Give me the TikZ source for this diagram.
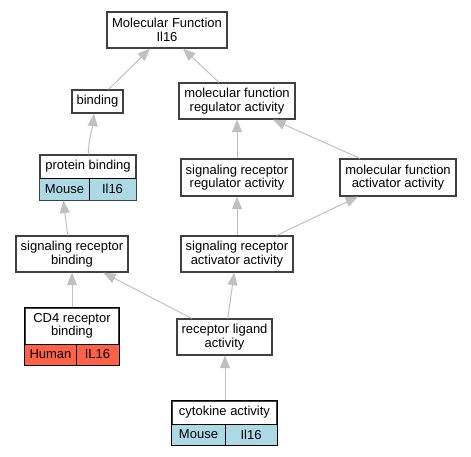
\documentclass[tikz,border=0pt]{standalone}
\usepackage{fontspec}
\setmainfont{Liberation Sans}
\usetikzlibrary{arrows.meta}
\definecolor{edgegray}{HTML}{C0C0C0}
\definecolor{boxgray}{HTML}{404040}
\definecolor{mouseblue}{HTML}{ADD8E6}
\definecolor{humanred}{HTML}{FF6347}
\tikzset{
  box/.style={draw=boxgray, line width=1.2pt, fill=white, inner sep=0pt, align=center,
    font=\fontsize{13}{13.5}\selectfont},
  txt/.style={inner sep=0pt, align=center, font=\fontsize{13}{13.5}\selectfont},
  link/.style={draw=edgegray, line width=1pt, -{Triangle[length=12.5pt,width=10pt]}},
  cell/.style={draw=black, line width=1pt},
}
\begin{document}
\begin{tikzpicture}[x=1pt,y=-1pt]
\useasboundingbox (0,0) rectangle (471,456);
% simple nodes
\node[box, minimum width=120pt, minimum height=36pt] (mf) at (167,30) {Molecular Function\\Il16};
\node[box, minimum width=51pt, minimum height=23pt] (binding) at (97.5,101.5) {binding};
\node[box, minimum width=116pt, minimum height=36pt] (mfra) at (237,101) {molecular function\\regulator activity};
\node[box, minimum width=112pt, minimum height=37pt] (srra) at (237,177.5) {signaling receptor\\regulator activity};
\node[box, minimum width=116pt, minimum height=37pt] (mfaa) at (398,177.5) {molecular function\\activator activity};
\node[box, minimum width=112pt, minimum height=36pt] (srb) at (72,254) {signaling receptor\\binding};
\node[box, minimum width=112pt, minimum height=36pt] (sraa) at (237,254) {signaling receptor\\activator activity};
\node[box, minimum width=95pt, minimum height=36pt] (rla) at (224.5,337) {receptor ligand\\activity};
% table nodes
% protein binding
\node[box, minimum width=96pt, minimum height=45pt] (pb) at (88,177.5) {};
\fill[mouseblue] (40,178) rectangle (136,200);
\draw[cell] (40,178) -- (136,178) (89,178) -- (89,200);
\draw[boxgray, line width=1.2pt] (pb.north west) rectangle (pb.south east);
\node[txt] (pbt) at (88,166.5) {protein binding};
\node[txt] (pbm) at (64.5,189) {Mouse};
\node[txt] (pbg) at (112.5,189) {Il16};
% CD4 receptor binding
\node[box, minimum width=94pt, minimum height=57pt] (cd4) at (72,336.5) {};
\fill[humanred] (25,344) rectangle (119,365);
\draw[cell] (25,344) -- (119,344) (76,344) -- (76,365);
\draw[black, line width=1.2pt] (cd4.north west) rectangle (cd4.south east);
\node[txt] (cd4t) at (72,326) {CD4 receptor\\binding};
\node[txt] (cd4h) at (50.5,354.5) {Human};
\node[txt] (cd4g) at (97.5,354.5) {IL16};
% cytokine activity
\node[box, minimum width=105pt, minimum height=44pt] (cyto) at (224.5,423) {};
\fill[mouseblue] (172,424) rectangle (277,445);
\draw[cell] (172,424) -- (277,424) (225,424) -- (225,445);
\draw[black, line width=1.2pt] (cyto.north west) rectangle (cyto.south east);
\node[txt] (cyt) at (224.5,412.5) {cytokine activity};
\node[txt] (cym) at (198.5,434.5) {Mouse};
\node[txt] (cyg) at (251,434.5) {Il16};
% connectors
\draw[link] ([xshift=11pt]binding.north) -- ([xshift=-17pt]mf.south);
\draw[link] ([xshift=-18pt]mfra.north) -- ([xshift=16pt]mf.south);
\draw[link] ([xshift=0.3pt]pb.north) .. controls +(0,-14) and +(-1.5,14) .. ([xshift=-3.5pt]binding.south);
\draw[link] (srra.north) -- (mfra.south);
\draw[link] ([xshift=-38pt]mfaa.north) -- ([xshift=36pt]mfra.south);
\draw[link] ([xshift=-4.3pt]srb.north) -- ([xshift=-24.7pt]pb.south);
\draw[link] (sraa.north) -- (srra.south);
\draw[link] ([xshift=39.7pt]sraa.north) -- ([xshift=-40pt]mfaa.south);
\draw[link] (cd4.north) -- (srb.south);
\draw[link] ([xshift=-32.8pt]rla.north) -- ([xshift=31.3pt]srb.south);
\draw[link] ([xshift=3.2pt]rla.north) -- ([xshift=-2.7pt]sraa.south);
\draw[link] ([xshift=0.5pt]cyto.north) -- ([xshift=0.5pt]rla.south);
\end{tikzpicture}
\end{document}
